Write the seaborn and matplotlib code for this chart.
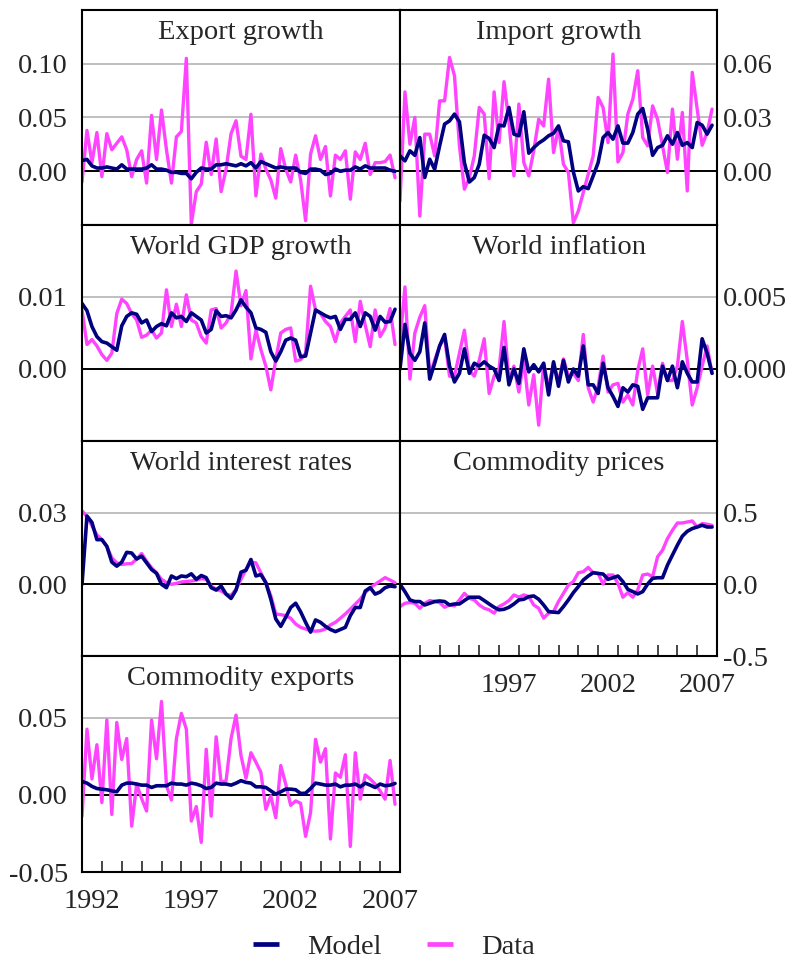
import numpy as np
import pandas as pd
import seaborn as sns
import matplotlib.pyplot as plt
from matplotlib.lines import Line2D
from matplotlib.ticker import FixedLocator, FormatStrFormatter

# quarterly observations 1992Q1 .. 2007Q4
years = 1992 + np.arange(64) * 0.25

export_data = [-0.010, 0.038, 0.008, 0.036, -0.005, 0.035, 0.020, 0.026, 0.032, 0.020,
               -0.005, 0.011, 0.019, -0.011, 0.052, 0.011, 0.057, 0.020, -0.011, 0.032,
               0.037, 0.105, -0.049, -0.019, -0.012, 0.027, -0.003, 0.030, -0.019, 0.002,
               0.035, 0.047, 0.014, 0.011, 0.053, -0.023, 0.016, 0.002, -0.008, -0.025,
               0.021, 0.002, -0.010, 0.015, -0.008, -0.046, 0.016, 0.033, 0.011, 0.023,
               -0.023, 0.015, 0.011, 0.019, -0.026, 0.018, 0.011, 0.026, -0.003, 0.008,
               0.008, 0.009, 0.015, -0.006]
export_model = [0.010, 0.011, 0.005, 0.003, 0.003, 0.004, 0.003, 0.002, 0.006, 0.002,
                0.002, 0.002, 0.002, 0.003, 0.006, 0.002, 0.002, 0.001, -0.001, -0.001,
                -0.002, -0.002, -0.007, -0.001, 0.003, 0.002, 0.002, 0.006, 0.006, 0.007,
                0.006, 0.005, 0.007, 0.005, 0.008, 0.003, 0.009, 0.007, 0.005, 0.003,
                0.004, 0.003, 0.003, 0.003, -0.001, -0.002, 0.002, 0.002, 0.001, -0.003,
                -0.002, 0.002, 0.000, 0.001, 0.001, 0.004, 0.002, 0.005, 0.003, 0.003,
                0.003, 0.003, 0.001, 0.000]

import_data = [-0.0166, 0.0443, 0.0151, 0.0300, -0.0250, 0.0207, 0.0207, 0.0086, 0.0393, 0.0393,
               0.0635, 0.0533, 0.0142, -0.0100, -0.0035, 0.0086, 0.0356, 0.0319, -0.0041, 0.0443,
               0.0160, 0.0500, 0.0272, -0.0026, 0.0375, 0.0048, -0.0026, 0.0114, 0.0290, 0.0253,
               0.0514, 0.0104, 0.0244, 0.0039, -0.0007, -0.0287, -0.0222, -0.0119, -0.0017, 0.0086,
               0.0412, 0.0356, 0.0160, 0.0654, 0.0052, 0.0104, 0.0319, 0.0402, 0.0561, 0.0188,
               0.0142, 0.0365, 0.0290, 0.0142, -0.0007, 0.0347, 0.0067, 0.0328, -0.0110, 0.0552,
               0.0347, 0.0145, 0.0216, 0.0347]
import_model = [0.0086, 0.0058, 0.0114, 0.0089, 0.0188, -0.0035, 0.0067, 0.0011, 0.0142, 0.0263,
                0.0281, 0.0319, 0.0276, 0.0048, -0.0060, -0.0035, 0.0039, 0.0201, 0.0183, 0.0132,
                0.0257, 0.0253, 0.0356, 0.0207, 0.0198, 0.0332, 0.0101, 0.0132, 0.0157, 0.0175,
                0.0198, 0.0212, 0.0253, 0.0170, 0.0164, -0.0004, -0.0110, -0.0086, -0.0097, -0.0026,
                0.0048, 0.0188, 0.0216, 0.0179, 0.0253, 0.0157, 0.0157, 0.0216, 0.0319, 0.0350,
                0.0235, 0.0089, 0.0132, 0.0145, 0.0198, 0.0151, 0.0216, 0.0145, 0.0160, 0.0132,
                0.0272, 0.0257, 0.0207, 0.0257]

gdp_data = [0.0082, 0.0034, 0.0041, 0.0032, 0.0020, 0.0012, 0.0022, 0.0077, 0.0097, 0.0091,
            0.0077, 0.0068, 0.0044, 0.0047, 0.0054, 0.0043, 0.0050, 0.0110, 0.0059, 0.0090,
            0.0059, 0.0103, 0.0068, 0.0064, 0.0045, 0.0036, 0.0082, 0.0084, 0.0057, 0.0064,
            0.0077, 0.0136, 0.0088, 0.0109, 0.0014, 0.0054, 0.0027, 0.0004, -0.0029, 0.0013,
            0.0050, 0.0055, 0.0057, 0.0011, 0.0013, 0.0022, 0.0115, 0.0082, 0.0077, 0.0066,
            0.0059, 0.0038, 0.0064, 0.0073, 0.0082, 0.0038, 0.0094, 0.0061, 0.0031, 0.0082,
            0.0045, 0.0057, 0.0084, 0.0034]
gdp_model = [0.0091, 0.0081, 0.0059, 0.0045, 0.0038, 0.0036, 0.0031, 0.0026, 0.0060, 0.0073,
             0.0078, 0.0076, 0.0064, 0.0068, 0.0052, 0.0059, 0.0063, 0.0060, 0.0078, 0.0071,
             0.0073, 0.0066, 0.0078, 0.0073, 0.0068, 0.0050, 0.0055, 0.0081, 0.0073, 0.0074,
             0.0071, 0.0082, 0.0096, 0.0086, 0.0078, 0.0057, 0.0055, 0.0051, 0.0024, 0.0011,
             0.0024, 0.0040, 0.0043, 0.0040, 0.0017, 0.0018, 0.0050, 0.0082, 0.0078, 0.0074,
             0.0071, 0.0073, 0.0055, 0.0069, 0.0069, 0.0078, 0.0059, 0.0078, 0.0073, 0.0054,
             0.0073, 0.0065, 0.0066, 0.0083]

infl_data = [0.0019, 0.0057, -0.0007, 0.0025, 0.0036, 0.0044, -0.0004, 0.0006, 0.0016, 0.0022,
             -0.0005, -0.0005, 0.0011, 0.0027, -0.0001, -0.0005, 0.0006, 0.0021, -0.0017, -0.0005,
             0.0000, 0.0033, -0.0008, 0.0002, -0.0016, 0.0006, -0.0025, -0.0004, -0.0039, 0.0004,
             -0.0013, 0.0004, -0.0009, 0.0007, -0.0005, -0.0003, -0.0008, 0.0024, -0.0013, -0.0023,
             -0.0012, 0.0009, -0.0016, -0.0011, -0.0010, -0.0023, -0.0018, -0.0025, -0.0001, 0.0014,
             -0.0018, 0.0002, -0.0017, 0.0004, -0.0008, -0.0008, 0.0002, 0.0033, 0.0006, -0.0025,
             -0.0013, 0.0002, 0.0016, -0.0003]
infl_model = [0.0000, 0.0031, 0.0011, 0.0006, 0.0012, 0.0032, -0.0007, 0.0004, 0.0016, 0.0024,
              0.0002, -0.0009, -0.0003, 0.0014, -0.0003, 0.0004, 0.0002, 0.0005, 0.0002, 0.0000,
              -0.0008, 0.0015, -0.0011, 0.0000, -0.0010, 0.0014, -0.0002, 0.0003, -0.0002, 0.0004,
              -0.0018, 0.0005, -0.0012, 0.0006, -0.0009, 0.0000, -0.0005, 0.0016, -0.0011, -0.0011,
              -0.0017, 0.0004, -0.0013, -0.0019, -0.0026, -0.0013, -0.0016, -0.0011, -0.0012, -0.0028,
              -0.0020, -0.0020, -0.0020, 0.0002, -0.0008, 0.0002, -0.0013, 0.0005, -0.0003, -0.0009,
              -0.0009, 0.0021, 0.0011, -0.0003]

rates_data = [0.0308, 0.0283, 0.0245, 0.0207, 0.0187, 0.0159, 0.0111, 0.0090, 0.0083, 0.0086,
              0.0087, 0.0106, 0.0129, 0.0097, 0.0069, 0.0048, 0.0021, 0.0007, 0.0000, 0.0004,
              0.0010, 0.0012, 0.0014, 0.0017, 0.0024, 0.0021, -0.0007, -0.0021, -0.0028, -0.0041,
              -0.0046, -0.0021, 0.0021, 0.0062, 0.0093, 0.0090, 0.0048, 0.0007, -0.0048, -0.0124,
              -0.0127, -0.0131, -0.0142, -0.0166, -0.0180, -0.0187, -0.0194, -0.0196, -0.0194, -0.0187,
              -0.0170, -0.0159, -0.0142, -0.0124, -0.0104, -0.0083, -0.0062, -0.0035, -0.0014, 0.0000,
              0.0014, 0.0028, 0.0018, 0.0007]
rates_model = [0.0000, 0.0286, 0.0259, 0.0187, 0.0187, 0.0159, 0.0093, 0.0076, 0.0093, 0.0134,
               0.0131, 0.0106, 0.0118, 0.0090, 0.0062, 0.0046, 0.0000, -0.0014, 0.0035, 0.0024,
               0.0035, 0.0032, 0.0044, 0.0021, 0.0037, 0.0028, -0.0014, -0.0024, -0.0007, -0.0041,
               -0.0059, -0.0024, 0.0051, 0.0059, 0.0104, 0.0035, 0.0041, 0.0007, -0.0062, -0.0145,
               -0.0176, -0.0138, -0.0097, -0.0079, -0.0115, -0.0159, -0.0200, -0.0149, -0.0159, -0.0176,
               -0.0189, -0.0198, -0.0189, -0.0180, -0.0131, -0.0097, -0.0097, -0.0028, -0.0014, -0.0041,
               -0.0032, -0.0014, -0.0007, -0.0010]

prices_data = [-0.155, -0.132, -0.127, -0.132, -0.167, -0.132, -0.113, -0.120, -0.127, -0.160,
               -0.144, -0.150, -0.109, -0.063, -0.097, -0.109, -0.144, -0.167, -0.178, -0.201,
               -0.155, -0.137, -0.113, -0.074, -0.090, -0.074, -0.086, -0.144, -0.167, -0.236,
               -0.201, -0.190, -0.120, -0.063, -0.005, 0.019, 0.081, 0.088, 0.118, 0.081,
               0.076, 0.002, 0.065, 0.065, 0.007, -0.090, -0.058, -0.090, -0.039, 0.065,
               0.072, 0.053, 0.192, 0.238, 0.319, 0.377, 0.428, 0.428, 0.435, 0.442,
               0.400, 0.424, 0.419, 0.412]
prices_model = [0.000, -0.051, -0.109, -0.120, -0.120, -0.144, -0.132, -0.120, -0.116, -0.120,
                -0.144, -0.137, -0.137, -0.113, -0.090, -0.090, -0.090, -0.113, -0.137, -0.160,
                -0.178, -0.174, -0.160, -0.137, -0.109, -0.104, -0.086, -0.081, -0.104, -0.144,
                -0.190, -0.194, -0.197, -0.155, -0.109, -0.058, -0.016, 0.030, 0.058, 0.081,
                0.076, 0.072, 0.035, 0.046, 0.058, 0.019, -0.035, -0.051, -0.067, -0.051,
                0.002, 0.042, 0.046, 0.046, 0.134, 0.204, 0.273, 0.336, 0.370, 0.389,
                0.400, 0.412, 0.400, 0.400]

cexp_data = [-0.0138, 0.0426, 0.0103, 0.0325, -0.0050, 0.0485, -0.0127, 0.0469, 0.0229, 0.0365,
             -0.0203, 0.0070, -0.0024, -0.0105, 0.0485, 0.0234, 0.0605, 0.0059, -0.0033, 0.0365,
             0.0528, 0.0426, -0.0170, -0.0076, -0.0308, 0.0295, -0.0138, 0.0376, 0.0081, 0.0092,
             0.0365, 0.0517, 0.0255, 0.0107, 0.0273, 0.0212, 0.0146, -0.0094, -0.0007, -0.0148,
             0.0190, 0.0070, -0.0068, -0.0039, -0.0055, -0.0269, -0.0116, 0.0360, 0.0212, 0.0299,
             -0.0286, 0.0142, 0.0114, 0.0260, -0.0334, 0.0273, -0.0028, 0.0129, 0.0103, 0.0070,
             0.0026, -0.0028, 0.0223, -0.0061]
cexp_model = [0.0087, 0.0076, 0.0055, 0.0041, 0.0037, 0.0033, 0.0026, 0.0020, 0.0063, 0.0076,
              0.0076, 0.0070, 0.0063, 0.0063, 0.0048, 0.0059, 0.0059, 0.0059, 0.0076, 0.0070,
              0.0070, 0.0063, 0.0076, 0.0070, 0.0059, 0.0041, 0.0048, 0.0076, 0.0070, 0.0070,
              0.0063, 0.0076, 0.0092, 0.0081, 0.0076, 0.0052, 0.0052, 0.0048, 0.0026, 0.0004,
              0.0020, 0.0037, 0.0037, 0.0033, 0.0009, 0.0011, 0.0041, 0.0076, 0.0070, 0.0063,
              0.0063, 0.0070, 0.0052, 0.0063, 0.0063, 0.0070, 0.0052, 0.0076, 0.0063, 0.0048,
              0.0070, 0.0059, 0.0063, 0.0074]

titles = ["Export growth", "Import growth", "World GDP growth", "World inflation",
          "World interest rates", "Commodity prices", "Commodity exports"]

NAVY = "#000080"
PINK = "#ff44ff"

# (title, data, model, ylim, labelled ticks, fmt, side)
panels = [
    (titles[0], export_data, export_model, (-0.05, 0.15), [0.0, 0.05, 0.10], "%.2f", "left"),
    (titles[1], import_data, import_model, (-0.03, 0.09), [0.0, 0.03, 0.06], "%.2f", "right"),
    (titles[2], gdp_data, gdp_model, (-0.01, 0.02), [0.0, 0.01], "%.2f", "left"),
    (titles[3], infl_data, infl_model, (-0.005, 0.010), [0.0, 0.005], "%.3f", "right"),
    (titles[4], rates_data, rates_model, (-0.03, 0.06), [0.0, 0.03], "%.2f", "left"),
    (titles[5], prices_data, prices_model, (-0.5, 1.0), [-0.5, 0.0, 0.5], "%.1f", "right"),
    (titles[6], cexp_data, cexp_model, (-0.05, 0.09), [-0.05, 0.0, 0.05], "%.2f", "left"),
]

sns.set_style("white")
plt.rcParams['font.family'] = ['Liberation Serif', 'DejaVu Serif']
plt.rcParams['axes.unicode_minus'] = False
FS = 20.5

fig = plt.figure(figsize=(7.93, 9.61), dpi=100)

col_x = [(82, 318), (400, 317)]
row_y = [(10, 225), (225, 441), (441, 656), (656, 872)]

for k, (title, data, model, ylim, yt, fmt, side) in enumerate(panels):
    r, c = k // 2, k % 2
    x0, w = col_x[c]
    ytop, ybot = row_y[r]
    ax = fig.add_axes([x0 / 793, 1 - ybot / 961, w / 793, (ybot - ytop) / 961])

    df = pd.DataFrame({"year": years, "Data": data, "Model": model})
    sns.lineplot(data=df, x="year", y="Data", color=PINK, linewidth=2.4, ax=ax)
    sns.lineplot(data=df, x="year", y="Model", color=NAVY, linewidth=2.6, ax=ax)

    ax.set_xlim(1992, 2008)
    ax.set_ylim(*ylim)
    ax.set_xlabel("")
    ax.set_ylabel("")

    for v in yt:
        if v == 0:
            ax.axhline(0, color="black", lw=1.4, zorder=1)
        elif v > 0:
            ax.axhline(v, color="#b4b4b4", lw=1.2, zorder=0)

    ax.yaxis.set_major_locator(FixedLocator(yt))
    ax.yaxis.set_major_formatter(FormatStrFormatter(fmt))
    if side == "right":
        ax.yaxis.tick_right()
        ax.tick_params(axis="y", length=0, pad=4, labelsize=FS)
    else:
        ax.tick_params(axis="y", length=0, pad=10, labelsize=FS)

    ax.text(0.5, 0.955, title, transform=ax.transAxes, ha="center", va="top", fontsize=FS)

    for s in ax.spines.values():
        s.set_color("black")
        s.set_linewidth(1.5)

    # year ticks only under the bottom panel of each column
    if k in (5, 6):
        ax.set_xticks(np.arange(1993, 2008))
        ax.tick_params(axis="x", which="major", direction="in", length=8, width=1.2,
                       labelbottom=False, bottom=True)
        lab_years = [1992, 1997, 2002, 2007] if k == 6 else [1997, 2002, 2007]
        ax.set_xticks([y + 0.5 for y in lab_years], minor=True)
        ax.set_xticklabels([str(y) for y in lab_years], minor=True)
        ax.tick_params(axis="x", which="minor", length=0, pad=12, labelsize=FS)
    else:
        ax.set_xticks([])

handles = [Line2D([0], [0], color=NAVY, lw=3.4, solid_capstyle="butt"),
           Line2D([0], [0], color=PINK, lw=3.4, solid_capstyle="butt")]
fig.legend(handles, ["Model", "Data"], loc="center", bbox_to_anchor=(0.497, 0.0146),
           ncol=2, frameon=False, fontsize=FS, handlelength=0.9, handletextpad=1.0,
           columnspacing=1.6, borderpad=0)

fig.savefig("out.png", dpi=100)
